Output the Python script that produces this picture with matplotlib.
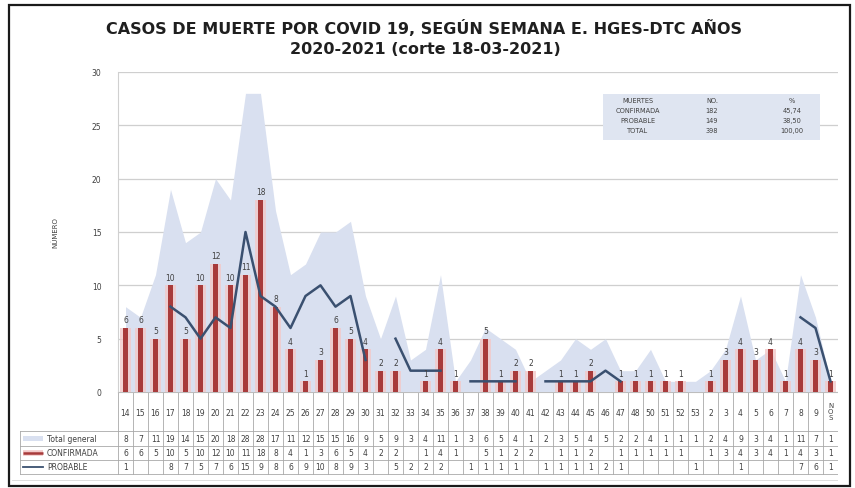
import numpy as np
import matplotlib
matplotlib.use("Agg")
import matplotlib.pyplot as plt
from matplotlib.patches import Rectangle

# --- datos ---
semanas = ['14', '15', '16', '17', '18', '19', '20', '21', '22', '23', '24', '25', '26', '27',
           '28', '29', '30', '31', '32', '33', '34', '35', '36', '37', '38', '39', '40', '41',
           '42', '43', '44', '45', '46', '47', '48', '50', '51', '52', '53', '2', '3', '4',
           '5', '6', '7', '8', '9', 'NOS']
total_general = [8, 7, 11, 19, 14, 15, 20, 18, 28, 28, 17, 11, 12, 15, 15, 16, 9, 5, 9, 3,
                 4, 11, 1, 3, 6, 5, 4, 1, 2, 3, 5, 4, 5, 2, 2, 4, 1, 1, 1, 2, 4, 9, 3, 4,
                 1, 11, 7, 1]
confirmada = [6, 6, 5, 10, 5, 10, 12, 10, 11, 18, 8, 4, 1, 3, 6, 5, 4, 2, 2, None,
              1, 4, 1, None, 5, 1, 2, 2, None, 1, 1, 2, None, 1, 1, 1, 1, 1, None, 1,
              3, 4, 3, 4, 1, 4, 3, 1]
probable = [1, None, None, 8, 7, 5, 7, 6, 15, 9, 8, 6, 9, 10, 8, 9, 3, None, 5, 2,
            2, 2, None, 1, 1, 1, 1, None, 1, 1, 1, 1, 2, 1, None, None, None, None, 1, None,
            None, 1, None, None, None, 7, 6, 1]

resumen_filas = ['MUERTES', 'CONFIRMADA', 'PROBABLE', 'TOTAL']
resumen_no = ['NO.', '182', '149', '398']
resumen_pct = ['%', '45,74', '38,50', '100,00']

# --- colores ---
c_area = '#d9e0f0'
c_bar = '#a83b3b'
c_halo = '#f3c9c9'
c_line = '#3a5070'
c_txt = '#404040'
c_grid = '#cfcfcf'
c_tab = '#a8a8a8'

W, H = 855, 489
fig = plt.figure(figsize=(W / 100, H / 100), dpi=100)

# pixel -> fraccion de figura
def fx(x):
    return x / W

def fy(y):
    return 1 - y / H

x0, x1, y0, y1 = 118, 838, 73, 393
n = len(semanas)
cw = (x1 - x0) / n
ax = fig.add_axes([fx(x0), fy(y1), fx(x1) - fx(x0), fy(y0) - fy(y1)])

x = np.arange(n)
conf = np.array([np.nan if v is None else v for v in confirmada], dtype=float)
prob = np.array([np.nan if v is None else v for v in probable], dtype=float)

ax.fill_between(x, total_general, color=c_area, lw=0, zorder=1)
ax.bar(x, np.nan_to_num(conf), width=0.7, color=c_halo, alpha=0.8, zorder=2)
ax.bar(x, np.nan_to_num(conf), width=0.28, color=c_bar, zorder=3)
ax.plot(x, prob, color=c_line, lw=1.8, zorder=4)

for i, v in enumerate(conf):
    if not np.isnan(v):
        ax.text(i, v + 0.35, f'{int(v)}', ha='center', va='bottom', fontsize=5.5,
                color=c_txt, zorder=5)

ax.set_xlim(-0.5, n - 0.5)
ax.set_ylim(0, 30)
ax.set_yticks(range(0, 31, 5))
ax.tick_params(axis='y', length=0, labelsize=5.5, labelcolor=c_txt, pad=12)
ax.set_xticks([])
ax.grid(axis='y', color=c_grid, lw=0.9, zorder=0)
ax.set_axisbelow(True)
for s in ['top', 'right', 'bottom']:
    ax.spines[s].set_visible(False)
ax.spines['left'].set_color('#d0d0d0')
ax.set_ylabel('NÚMERO', fontsize=5, color=c_txt, labelpad=24)

# --- tabla de datos debajo del eje ---
tab = fig.add_axes([fx(9), fy(489), fx(x1) - fx(9), fy(y1) - fy(489)])
tab.set_xlim(-0.5 - (x0 - 9) / cw, n - 0.5)
tab.set_ylim(489, y1)
tab.axis('off')

r_top, r1, r2, r_bot = 432, 447, 461, 475
left_col = -0.5 - (x0 - 20) / cw
for i in range(n + 1):
    tab.plot([i - 0.5, i - 0.5], [y1, r_bot], color=c_tab, lw=0.6)
for yy in [r_top, r1, r2, r_bot]:
    tab.plot([left_col, n - 0.5], [yy, yy], color=c_tab, lw=0.6)
tab.plot([left_col, left_col], [r_top, r_bot], color=c_tab, lw=0.6)
tab.plot([-0.5, n - 0.5], [y1, y1], color='#bdbdbd', lw=0.8)
tab.plot([left_col - 0.5, n - 0.5 + 0.6], [481, 481], color='#d8d8d8', lw=0.6)

for i, s in enumerate(semanas):
    if s == 'NOS':
        tab.text(i, 412, 'N\nO\nS', ha='center', va='center', fontsize=5, color=c_txt,
                 linespacing=1.05)
    else:
        tab.text(i, 413, s, ha='center', va='center', fontsize=5.5, color=c_txt)

filas = [(total_general, (r_top + r1) / 2), (confirmada, (r1 + r2) / 2),
         (probable, (r2 + r_bot) / 2)]
for vals, yy in filas:
    for i, v in enumerate(vals):
        if v is not None:
            tab.text(i, yy, str(v), ha='center', va='center', fontsize=5.5, color=c_txt)

# leyenda dentro de la tabla
kx0 = left_col + 3 / cw
kx1 = left_col + 23 / cw
lx = left_col + 27 / cw
ym = (r_top + r1) / 2
tab.add_patch(Rectangle((kx0, ym - 2.5), kx1 - kx0, 5, color=c_area, lw=0))
tab.text(lx, ym, 'Total general', ha='left', va='center', fontsize=5.5, color=c_txt)
ym = (r1 + r2) / 2
tab.plot([kx0, kx1], [ym, ym], color=c_halo, lw=4, solid_capstyle='butt')
tab.plot([kx0, kx1], [ym, ym], color=c_bar, lw=1.8, solid_capstyle='butt')
tab.text(lx, ym, 'CONFIRMADA', ha='left', va='center', fontsize=5.5, color=c_txt)
ym = (r2 + r_bot) / 2
tab.plot([kx0, kx1], [ym, ym], color=c_line, lw=1.3)
tab.text(lx, ym, 'PROBABLE', ha='left', va='center', fontsize=5.5, color=c_txt)

# --- capa superior: titulo, marco y cuadro resumen ---
ov = fig.add_axes([0, 0, 1, 1])
ov.set_xlim(0, W)
ov.set_ylim(H, 0)
ov.axis('off')
ov.patch.set_alpha(0)

ov.add_patch(Rectangle((9, 6), 841, 481, fill=False, ec='#1a1a1a', lw=1.6))
ov.text(424, 28, 'CASOS DE MUERTE POR COVID 19, SEGÚN SEMANA E. HGES-DTC AÑOS',
        ha='center', va='center', fontsize=11.5, fontweight='bold', color='#1f1f1f')
ov.text(425, 50, '2020-2021 (corte 18-03-2021)', ha='center', va='center',
        fontsize=11.5, fontweight='bold', color='#1f1f1f')

ov.add_patch(Rectangle((603, 95), 217, 46, color='#dfe5f1', lw=0))
for k, (a, b, c) in enumerate(zip(resumen_filas, resumen_no, resumen_pct)):
    yy = 101 + k * 10
    ov.text(638, yy, a, ha='center', va='center', fontsize=4.8, color=c_txt)
    ov.text(712, yy, b, ha='center', va='center', fontsize=4.8, color=c_txt)
    ov.text(792, yy, c, ha='center', va='center', fontsize=4.8, color=c_txt)

fig.savefig('out.png', dpi=100)
